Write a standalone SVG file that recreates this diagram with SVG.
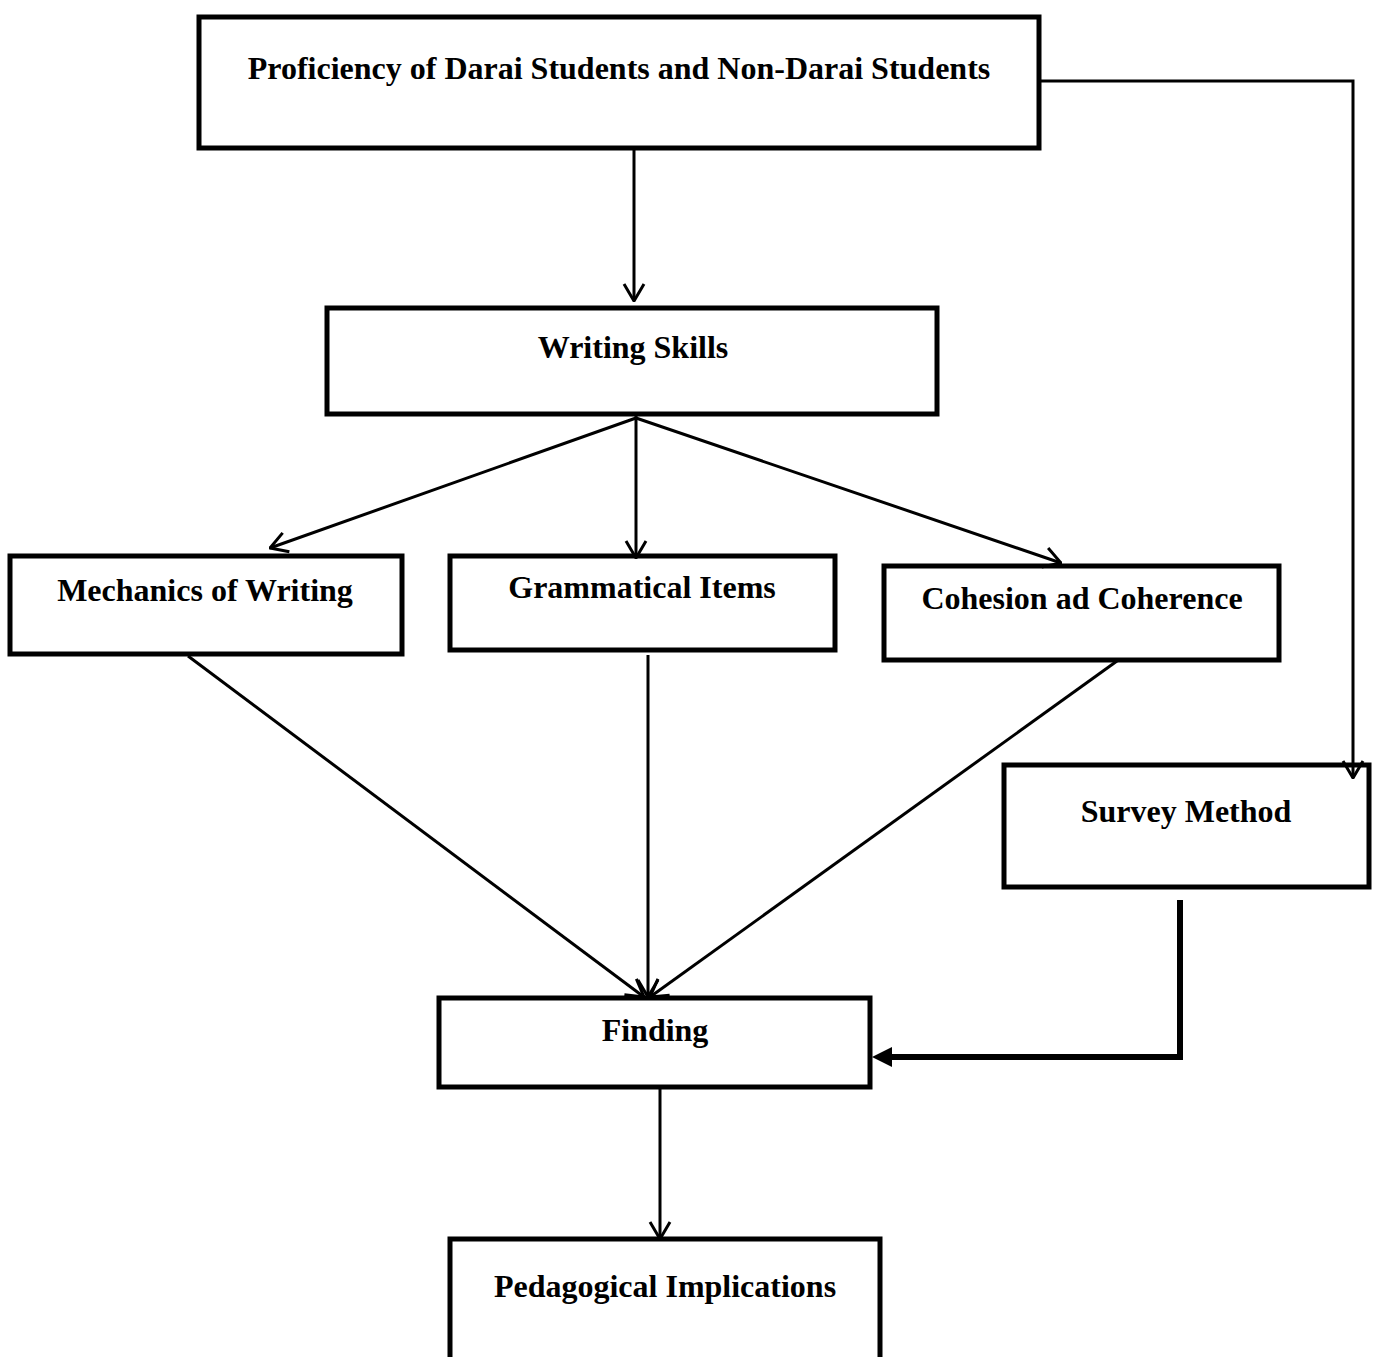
<svg xmlns="http://www.w3.org/2000/svg" width="1379" height="1357" viewBox="0 0 1379 1357">
<style>
.box{fill:#fff;stroke:#000;stroke-width:5}
.lbl{font-family:"Liberation Serif","Times New Roman",serif;font-weight:bold;font-size:32px;fill:#000;text-anchor:middle}
.ln{fill:none;stroke:#000;stroke-width:3}
.thick{fill:none;stroke:#000;stroke-width:6}
</style>
<defs>
<marker id="open" viewBox="0 0 20 24" refX="19" refY="12" markerWidth="20" markerHeight="24" markerUnits="userSpaceOnUse" orient="auto">
<path d="M2,2 L19,12 L2,22" fill="none" stroke="#000" stroke-width="3"/>
</marker>
</defs>
<rect width="1379" height="1357" fill="#fff"/>
<g id="proficiency">
<rect class="box" x="199" y="17" width="840" height="131"/>
<text class="lbl" x="619" y="79">Proficiency of Darai Students and Non-Darai Students</text>
</g>
<g id="writing-skills">
<rect class="box" x="327" y="308" width="610" height="106"/>
<text class="lbl" x="633" y="358">Writing Skills</text>
</g>
<g id="mechanics">
<rect class="box" x="10" y="556" width="392" height="98"/>
<text class="lbl" x="205" y="601">Mechanics of Writing</text>
</g>
<g id="grammatical">
<rect class="box" x="450" y="556" width="385" height="94"/>
<text class="lbl" x="642" y="598">Grammatical Items</text>
</g>
<g id="cohesion">
<rect class="box" x="884" y="566" width="395" height="94"/>
<text class="lbl" x="1082" y="609">Cohesion ad Coherence</text>
</g>
<g id="survey">
<rect class="box" x="1004" y="765" width="365" height="122"/>
<text class="lbl" x="1186" y="822">Survey Method</text>
</g>
<g id="finding">
<rect class="box" x="439" y="998" width="431" height="89"/>
<text class="lbl" x="655" y="1041">Finding</text>
</g>
<g id="pedagogical">
<path class="box" d="M450,1370 L450,1239 L880,1239 L880,1370"/>
<text class="lbl" x="665" y="1297">Pedagogical Implications</text>
</g>
<g id="connectors">
<path class="ln" d="M1039,81 L1353,81 L1353,778" marker-end="url(#open)"/>
<path class="ln" d="M634,150 L634,301" marker-end="url(#open)"/>
<path class="ln" d="M636,418 L270,548" marker-end="url(#open)"/>
<path class="ln" d="M636,412 L636,558" marker-end="url(#open)"/>
<path class="ln" d="M636,418 L1061,563" marker-end="url(#open)"/>
<path class="ln" d="M188,656 L644,997" marker-end="url(#open)"/>
<path class="ln" d="M648,655 L648,997" marker-end="url(#open)"/>
<path class="ln" d="M1117,661 L650,997" marker-end="url(#open)"/>
<path class="thick" d="M1180,900 L1180,1057 L892,1057"/>
<path d="M872,1057 L892,1047 L892,1067 Z" fill="#000"/>
<path class="ln" d="M660,1089 L660,1239" marker-end="url(#open)"/>
</g>
</svg>
